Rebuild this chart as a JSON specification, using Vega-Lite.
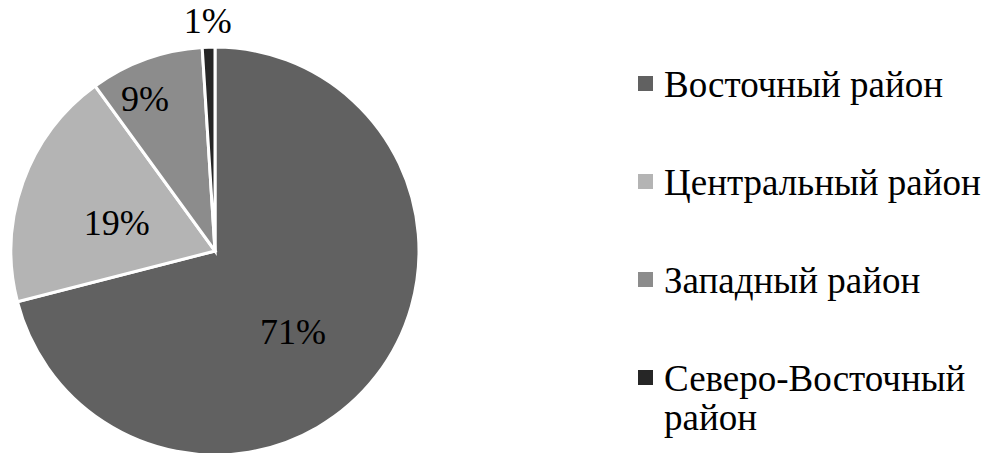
{
  "$schema": "https://vega.github.io/schema/vega-lite/v6.json",
  "autosize": {"type": "none"},
  "width": 430,
  "height": 406,
  "padding": {"left": 0, "top": 48, "right": 561, "bottom": 0},
  "background": "white",
  "config": {"view": {"stroke": null}, "font": "Liberation Serif", "legend": {"labelFont": "Liberation Serif"}},
  "data": {"values": [
    {"region": "Восточный район", "share": 0.71},
    {"region": "Центральный район", "share": 0.19},
    {"region": "Западный район", "share": 0.09},
    {"region": "Северо-Восточный район", "share": 0.01}
  ]},
  "encoding": {
    "theta": {"field": "share", "type": "quantitative", "stack": true},
    "order": {"field": "share", "type": "quantitative", "sort": "descending"}
  },
  "layer": [
    {
      "mark": {"type": "arc", "outerRadius": 204, "stroke": "white", "strokeWidth": 3},
      "encoding": {
        "color": {
          "field": "region", "type": "nominal",
          "scale": {
            "domain": ["Восточный район", "Центральный район", "Западный район", "Северо-Восточный район"],
            "range": ["#616161", "#b4b4b4", "#8c8c8c", "#262626"]
          },
          "legend": {
            "title": null,
            "orient": "none",
            "legendX": 627,
            "legendY": 30,
            "symbolType": "M-1,-2.73L1,-2.73L1,-0.73L-1,-0.73Z",
            "symbolSize": 225,
            "symbolStrokeWidth": 0,
            "labelFont": "Liberation Serif",
            "labelFontSize": 37,
            "labelLineHeight": 43,
            "labelColor": "black",
            "labelLimit": 400,
            "labelOffset": 0,
            "labelBaseline": "alphabetic",
            "rowPadding": 60,
            "labelExpr": "datum.label == 'Северо-Восточный район' ? ['Северо-Восточный', 'район'] : datum.label"
          }
        }
      }
    },
    {
      "mark": {"type": "text", "radius": 113, "thetaOffset": 0.15, "fontSize": 36, "font": "Liberation Serif", "color": "black"},
      "encoding": {"text": {"condition": {"test": "datum.share == 0.71", "field": "share", "type": "quantitative", "format": ".0%"}, "value": ""}, "detail": {"field": "region"}}
    },
    {
      "mark": {"type": "text", "radius": 102, "thetaOffset": -0.077, "fontSize": 36, "font": "Liberation Serif", "color": "black"},
      "encoding": {"text": {"condition": {"test": "datum.share == 0.19", "field": "share", "type": "quantitative", "format": ".0%"}, "value": ""}, "detail": {"field": "region"}}
    },
    {
      "mark": {"type": "text", "radius": 166, "thetaOffset": -0.09, "fontSize": 36, "font": "Liberation Serif", "color": "black"},
      "encoding": {"text": {"condition": {"test": "datum.share == 0.09", "field": "share", "type": "quantitative", "format": ".0%"}, "value": ""}, "detail": {"field": "region"}}
    },
    {
      "mark": {"type": "text", "radius": 229, "fontSize": 36, "font": "Liberation Serif", "color": "black"},
      "encoding": {"text": {"condition": {"test": "datum.share == 0.01", "field": "share", "type": "quantitative", "format": ".0%"}, "value": ""}, "detail": {"field": "region"}}
    }
  ]
}
